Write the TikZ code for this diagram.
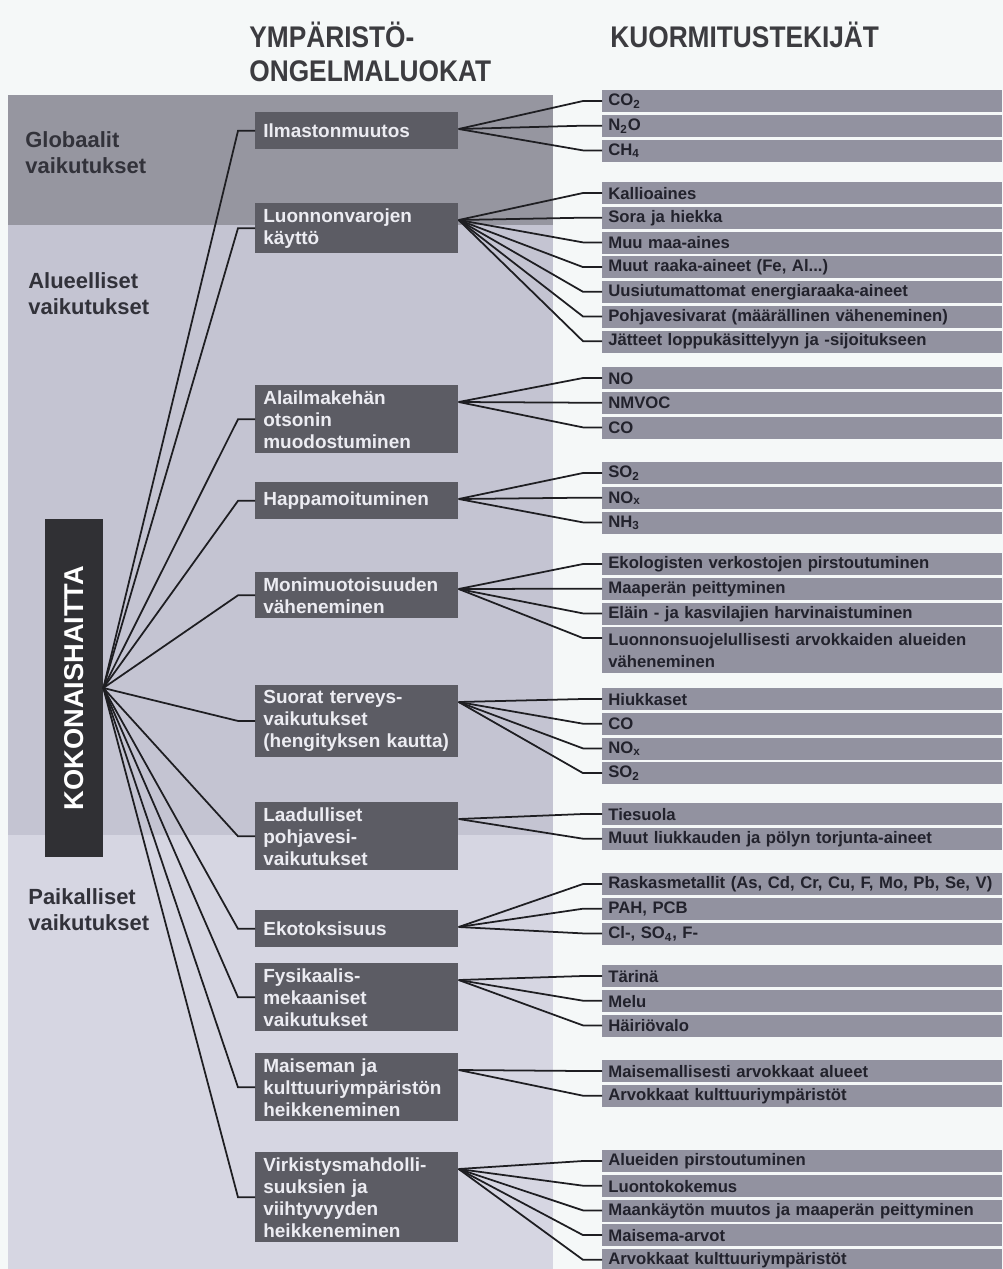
\documentclass[tikz,border=0pt]{standalone}
\usepackage{fontspec}
\setmainfont{Liberation Sans}
\newfontfamily\headfont[FakeStretch=0.88]{Liberation Sans Bold}
\usepackage{graphicx}
\usepackage{xcolor}
\usepackage{tikz}
\usetikzlibrary{positioning}

\definecolor{pagebg}{RGB}{245,248,248}
\definecolor{globfill}{RGB}{150,150,160}
\definecolor{aluefill}{RGB}{196,196,210}
\definecolor{paikfill}{RGB}{214,214,226}
\definecolor{barfill}{RGB}{146,146,160}
\definecolor{boxfill}{RGB}{92,92,100}
\definecolor{totalfill}{RGB}{48,48,52}
\definecolor{boxtext}{RGB}{236,236,242}
\definecolor{bartext}{RGB}{34,34,44}
\definecolor{regtext}{RGB}{50,50,58}
\definecolor{headtext}{RGB}{60,60,64}
\definecolor{linecol}{RGB}{30,30,34}

\hyphenpenalty=10000
\exhyphenpenalty=10000

\begin{document}
\begin{tikzpicture}[
    x=0.02cm, y=-0.02cm,
    node distance=0.04cm,
    link/.style={line width=1pt, draw=linecol},
    probbox/.style={rectangle, fill=boxfill, text=boxtext, anchor=north west, text width=3.74cm, inner xsep=0.16cm, inner ysep=0.1cm, minimum height=0.74cm, align=left, font=\fontsize{10.8}{12.5}\selectfont\bfseries},
    factor/.style={rectangle, fill=barfill, text=bartext, text width=7.76cm, inner xsep=0.12cm, inner ysep=0pt, minimum height=0.44cm, align=left, font=\fontsize{9.5}{12.5}\selectfont\bfseries},
    region/.style={anchor=north west, inner sep=0pt, align=left, text=regtext, font=\fontsize{12.5}{14.7}\selectfont\bfseries},
    heading/.style={anchor=north west, inner sep=0pt, align=left, text=headtext, font=\headfont\fontsize{17}{19}\selectfont}
]

% Page and background bands
\fill[pagebg] (0,0) rectangle (1003,1269);
\useasboundingbox (0,0) rectangle (1003,1269);
\fill[globfill] (8,95) rectangle (553,225);
\fill[aluefill] (8,225) rectangle (553,835);
\fill[paikfill] (8,835) rectangle (553,1269);

% Headings
\node[heading] (probhead) at (249,22) {YMPÄRISTÖ-\\ONGELMALUOKAT};
\node[heading] (factorhead) at (610,22) {KUORMITUSTEKIJÄT};

% Scale of effects
\node[region] (glob) at (25,131) {Globaalit\\vaikutukset};
\node[region] (alue) at (28,272) {Alueelliset\\vaikutukset};
\node[region] (paik) at (28,888) {Paikalliset\\vaikutukset};

% Total harm
\node[rectangle, fill=totalfill, text=white, minimum width=1.16cm, minimum height=6.78cm, inner sep=0pt, font=\fontsize{15.5}{16}\selectfont\bfseries] (total) at (74,688) {\rotatebox{90}{KOKONAISHAITTA}};

% Problem classes
\node[probbox] (ilmasto) at (255,112) {Ilmastonmuutos};
\node[probbox] (luonnon) at (255,203) {Luonnonvarojen\\käyttö};
\node[probbox] (otsoni) at (255,385) {Alailmakehän\\otsonin\\muodostuminen};
\node[probbox] (happamo) at (255,482) {Happamoituminen};
\node[probbox] (monimuoto) at (255,572) {Monimuotoisuuden\\väheneminen};
\node[probbox] (terveys) at (255,685) {Suorat terveys-\\vaikutukset\\(hengityksen kautta)};
\node[probbox] (laatu) at (255,802) {Laadulliset\\pohjavesi-\\vaikutukset};
\node[probbox] (ekotox) at (255,910) {Ekotoksisuus};
\node[probbox] (fysikaal) at (255,963) {Fysikaalis-\\mekaaniset\\vaikutukset};
\node[probbox] (maisema) at (255,1053) {Maiseman ja\\kulttuuriympäristön\\heikkeneminen};
\node[probbox] (virkistys) at (255,1152) {Virkistysmahdolli-\\suuksien ja\\viihtyvyyden\\heikkeneminen};

% Loading factors
\node[factor, anchor=north west] (co2) at (602,90) {CO\textsubscript{2}};
\node[factor, below=of co2] (n2o) {N\textsubscript{2}O};
\node[factor, below=of n2o] (ch4) {CH\textsubscript{4}};

\node[factor, anchor=north west] (kallio) at (602,182) {Kallioaines};
\node[factor, below=of kallio] (sora) {Sora ja hiekka};
\node[factor, below=of sora] (maa) {Muu maa-aines};
\node[factor, below=of maa] (raaka) {Muut raaka-aineet (Fe, Al...)};
\node[factor, below=of raaka] (energia) {Uusiutumattomat energiaraaka-aineet};
\node[factor, below=of energia] (vesivarat) {Pohjavesivarat (määrällinen väheneminen)};
\node[factor, below=of vesivarat] (jatteet) {Jätteet loppukäsittelyyn ja -sijoitukseen};

\node[factor, anchor=north west] (noa) at (602,367) {NO};
\node[factor, below=of noa] (nmvoc) {NMVOC};
\node[factor, below=of nmvoc] (coa) {CO};

\node[factor, anchor=north west] (so2a) at (602,462) {SO\textsubscript{2}};
\node[factor, below=of so2a] (noxa) {NO\textsubscript{x}};
\node[factor, below=of noxa] (nh3) {NH\textsubscript{3}};

\node[factor, anchor=north west] (ekol) at (602,553) {Ekologisten verkostojen pirstoutuminen};
\node[factor, below=of ekol] (maaperan) {Maaperän peittyminen};
\node[factor, below=of maaperan] (elain) {Eläin - ja kasvilajien harvinaistuminen};
\node[factor, below=of elain, minimum height=0.92cm] (suojelu) {Luonnonsuojelullisesti arvokkaiden alueiden\\väheneminen};

\node[factor, anchor=north west] (hiukk) at (602,688) {Hiukkaset};
\node[factor, below=of hiukk] (cob) {CO};
\node[factor, below=of cob] (noxb) {NO\textsubscript{x}};
\node[factor, below=of noxb] (so2b) {SO\textsubscript{2}};

\node[factor, anchor=north west] (tiesuola) at (602,803) {Tiesuola};
\node[factor, below=of tiesuola] (liukkaus) {Muut liukkauden ja pölyn torjunta-aineet};

\node[factor, anchor=north west] (raskas) at (602,873) {Raskasmetallit (As, Cd, Cr, Cu, F, Mo, Pb, Se, V)};
\node[factor, below=of raskas] (pah) {PAH, PCB};
\node[factor, below=of pah] (cl) {Cl-, SO\textsubscript{4}, F-};

\node[factor, anchor=north west] (tarina) at (602,965) {Tärinä};
\node[factor, below=of tarina] (melu) {Melu};
\node[factor, below=of melu] (hairio) {Häiriövalo};

\node[factor, anchor=north west] (maisemall) at (602,1060) {Maisemallisesti arvokkaat alueet};
\node[factor, below=of maisemall] (arvoa) {Arvokkaat kulttuuriympäristöt};

\node[factor, anchor=north west] (alueiden) at (602,1150) {Alueiden pirstoutuminen};
\node[factor, below=of alueiden] (luonto) {Luontokokemus};
\node[factor, below=of luonto] (maankaytto) {Maankäytön muutos ja maaperän peittyminen};
\node[factor, below=of maankaytto] (maisarvo) {Maisema-arvot};
\node[factor, below=of maisarvo] (arvob) {Arvokkaat kulttuuriympäristöt};

% Connectors: total harm to problem classes
\foreach \b in {ilmasto,luonnon,otsoni,happamo,monimuoto,terveys,laatu,ekotox,fysikaal,maisema,virkistys}
    \draw[link] (total.east) -- ([xshift=-0.34cm]\b.west) -- (\b.west);

% Connectors: problem classes to loading factors
\foreach \p/\fs in {ilmasto/{co2,n2o,ch4}, luonnon/{kallio,sora,maa,raaka,energia,vesivarat,jatteet}, otsoni/{noa,nmvoc,coa}, happamo/{so2a,noxa,nh3}, monimuoto/{ekol,maaperan,elain,suojelu}, terveys/{hiukk,cob,noxb,so2b}, laatu/{tiesuola,liukkaus}, ekotox/{raskas,pah,cl}, fysikaal/{tarina,melu,hairio}, maisema/{maisemall,arvoa}, virkistys/{alueiden,luonto,maankaytto,maisarvo,arvob}}
    \foreach \f in \fs
        \draw[link] ([yshift=-0.34cm]\p.north east) -- ([xshift=-0.38cm,yshift=-0.22cm]\f.north west) -- ([yshift=-0.22cm]\f.north west);

\end{tikzpicture}
\end{document}
